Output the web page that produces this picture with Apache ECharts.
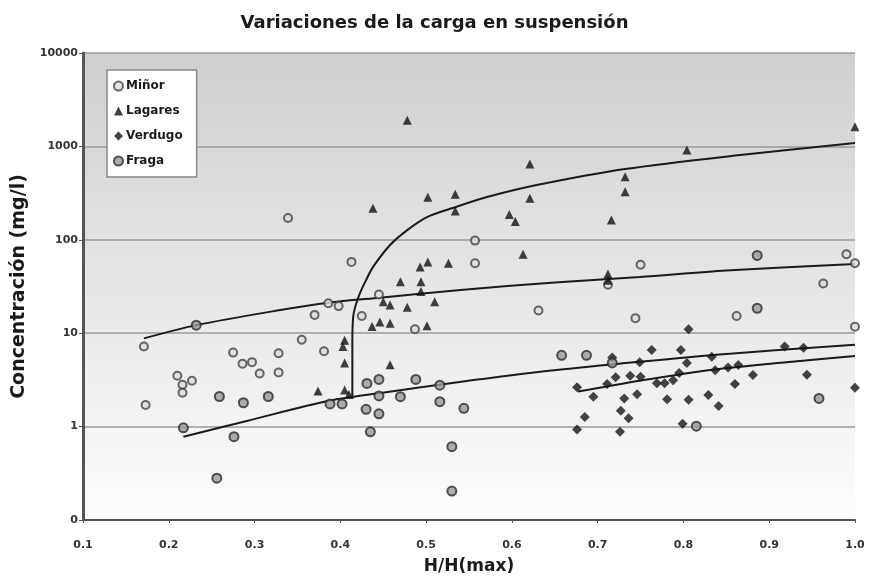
<!DOCTYPE html>
<html>
<head>
<meta charset="utf-8">
<script src="https://cdn.jsdelivr.net/npm/echarts@6/dist/echarts.min.js"></script>
<style>html,body{margin:0;padding:0;background:#fff}#c{width:869px;height:580px}</style>
</head>
<body>
<div id="c"></div>
<script>
const seriesNames = ['Miñor', 'Lagares', 'Verdugo', 'Fraga'];
const xTicks = [0.1, 0.2, 0.3, 0.4, 0.5, 0.6, 0.7, 0.8, 0.9, 1.0];
const yTicks = [0.1, 1, 10, 100, 1000, 10000];

const minorPts = [[0.171,7.2],[0.173,1.7],[0.210,3.5],[0.227,3.1],[0.216,2.8],[0.216,2.3],[0.275,6.2],[0.286,4.7],[0.297,4.9],[0.306,3.7],[0.328,3.8],[0.328,6.1],[0.355,8.5],[0.381,6.4],[0.370,15.7],[0.386,20.9],[0.398,19.5],[0.413,58],[0.425,15.3],[0.445,26],[0.487,11],[0.557,98],[0.557,56],[0.631,17.5],[0.712,33],[0.750,54],[0.744,14.5],[0.862,15.3],[0.963,34],[0.990,70],[1.0,56],[1.0,11.7],[0.339,171]];
const lagaresPts = [[0.478,1900],[0.804,915],[1.0,1625],[0.621,648],[0.732,474],[0.732,327],[0.502,285],[0.534,307],[0.438,218],[0.534,203],[0.621,278],[0.597,187],[0.604,157],[0.716,163],[0.613,70],[0.502,58],[0.493,51],[0.526,56],[0.470,35.6],[0.494,35.6],[0.494,28],[0.712,43],[0.712,37],[0.510,21.7],[0.450,21.7],[0.458,20],[0.478,19],[0.437,11.8],[0.446,13.2],[0.458,12.8],[0.501,12],[0.405,8.4],[0.403,7.2],[0.405,4.8],[0.458,4.6],[0.405,2.46],[0.374,2.4],[0.41,2.2]];
const verdugoPts = [[0.717,5.5],[0.749,4.9],[0.763,6.6],[0.797,6.6],[0.804,4.8],[0.806,11],[0.676,2.64],[0.711,2.85],[0.721,3.37],[0.738,3.5],[0.750,3.41],[0.769,2.91],[0.778,2.91],[0.788,3.14],[0.795,3.76],[0.695,2.09],[0.731,2.0],[0.746,2.22],[0.781,1.96],[0.806,1.94],[0.829,2.18],[0.685,1.27],[0.727,1.48],[0.736,1.23],[0.676,0.93],[0.726,0.88],[0.799,1.07],[0.918,7.2],[0.940,7.0],[0.833,5.6],[0.852,4.3],[0.864,4.57],[0.837,4.0],[0.881,3.57],[0.860,2.85],[0.944,3.6],[1.0,2.6],[0.841,1.66]];
const fragaPts = [[0.232,12.2],[0.217,0.97],[0.276,0.78],[0.256,0.28],[0.259,2.1],[0.287,1.8],[0.316,2.1],[0.388,1.75],[0.402,1.75],[0.431,2.9],[0.430,1.53],[0.445,3.2],[0.445,2.13],[0.445,1.37],[0.488,3.2],[0.470,2.09],[0.516,2.78],[0.516,1.85],[0.544,1.57],[0.435,0.88],[0.530,0.61],[0.530,0.204],[0.658,5.8],[0.687,5.8],[0.717,4.8],[0.886,68],[0.886,18.5],[0.958,2.0],[0.815,1.01]];

const trendLagares = [[0.414,2.0],[0.414,8],[0.415,15],[0.418,20],[0.423,27],[0.430,37],[0.438,51],[0.458,88],[0.478,127],[0.501,175],[0.531,219],[0.571,287],[0.629,386],[0.732,573],[0.866,809],[1.0,1087]];
const trendMinor = [[0.171,8.8],[0.232,12.2],[0.330,17.7],[0.386,21.2],[0.446,24],[0.540,29],[0.650,35],[0.749,40],[0.850,47],[1.0,55]];
const trendFraga = [[0.217,0.78],[0.291,1.15],[0.388,1.9],[0.449,2.3],[0.539,3.0],[0.649,4.0],[0.749,4.95],[0.850,6.0],[1.0,7.5]];
const trendVerdugo = [[0.677,2.37],[0.749,3.1],[0.831,4.04],[0.920,4.9],[1.0,5.7]];

const FONT = 'DejaVu Sans';
const chart = echarts.init(document.getElementById('c'), null, {renderer: 'canvas'});

function trend(data) {
  return {type: 'line', data: data, showSymbol: false, symbol: 'none', smooth: 0.3, silent: true,
    lineStyle: {color: '#1a1a1a', width: 2}, z: 3, legendHoverLink: false};
}

chart.setOption({
  animation: false,
  backgroundColor: '#fff',
  title: {text: 'Variaciones de la carga en suspensión', left: 'center', top: 9,
    textStyle: {fontFamily: FONT, fontSize: 18, fontWeight: 'bold', color: '#1a1a1a'}},
  grid: {left: 83, right: 14, top: 53, bottom: 60, show: true, borderWidth: 0,
    backgroundColor: {type: 'linear', x: 0, y: 0, x2: 0, y2: 1, colorStops: [
      {offset: 0, color: '#cfcfcf'}, {offset: 0.5, color: '#e6e6e6'}, {offset: 1, color: '#fdfdfd'}]}},
  legend: {orient: 'vertical', left: 107, top: 70, data: seriesNames,
    backgroundColor: '#fff', borderColor: '#888', borderWidth: 1.5, padding: [10, 14, 10, 6],
    itemGap: 13, itemWidth: 9, itemHeight: 9,
    textStyle: {fontFamily: FONT, fontSize: 12, fontWeight: 'bold', color: '#1a1a1a', padding: [0, 0, 0, -2]}},
  xAxis: {type: 'value', min: 0.1, max: 1.0, interval: 0.1,
    name: 'H/H(max)', nameLocation: 'middle', nameGap: 38,
    nameTextStyle: {fontFamily: FONT, fontSize: 17, fontWeight: 'bold', color: '#1a1a1a'},
    axisLine: {show: true, lineStyle: {color: '#555', width: 2}},
    axisTick: {show: true, length: 3, lineStyle: {color: '#555'}},
    splitLine: {show: false},
    axisLabel: {fontFamily: FONT, fontSize: 11, fontWeight: 'bold', color: '#333', margin: 20,
      formatter: v => v.toFixed(1)}},
  yAxis: {type: 'log', logBase: 10, min: 0.1, max: 10000,
    name: 'Concentración (mg/l)', nameLocation: 'middle', nameGap: 53,
    nameTextStyle: {fontFamily: FONT, fontSize: 19, fontWeight: 'bold', color: '#1a1a1a'},
    axisLine: {show: true, lineStyle: {color: '#555', width: 3}},
    axisTick: {show: true, length: 4, lineStyle: {color: '#555'}},
    splitLine: {show: true, lineStyle: {color: '#9a9a9a', width: 1.5}},
    minorTick: {show: false}, minorSplitLine: {show: false},
    axisLabel: {fontFamily: FONT, fontSize: 11, fontWeight: 'bold', color: '#333', margin: 5,
      formatter: v => (v < 0.5 ? '0' : String(Math.round(v)))}},
  series: [
    {name: 'Miñor', type: 'scatter', data: minorPts, symbol: 'circle', symbolSize: 8, z: 4,
      itemStyle: {color: '#dcdcdc', borderColor: '#444', borderWidth: 2}},
    {name: 'Lagares', type: 'scatter', data: lagaresPts, symbol: 'triangle', symbolSize: 9, z: 4,
      itemStyle: {color: '#111'}},
    {name: 'Verdugo', type: 'scatter', data: verdugoPts, symbol: 'diamond', symbolSize: 10, z: 4,
      itemStyle: {color: '#151515'}},
    {name: 'Fraga', type: 'scatter', data: fragaPts, symbol: 'circle', symbolSize: 9, z: 4,
      itemStyle: {color: '#9a9a9a', borderColor: '#2a2a2a', borderWidth: 2}},
    trend(trendLagares), trend(trendMinor), trend(trendFraga), trend(trendVerdugo)
  ]
});
</script>
</body>
</html>
